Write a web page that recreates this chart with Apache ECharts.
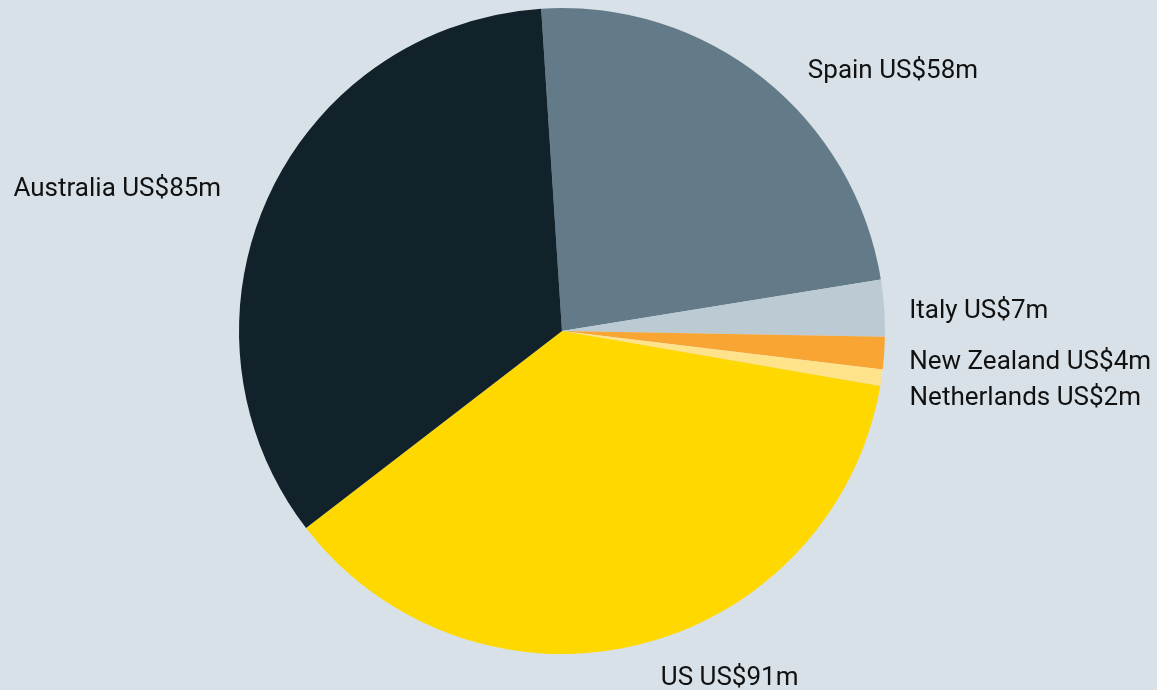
<!DOCTYPE html>
<html>
<head>
<meta charset="utf-8">
<style>
  html, body { margin: 0; padding: 0; background: #d8e1e7; }
  #chart { width: 1157px; height: 690px; }
</style>
<script src="https://cdn.jsdelivr.net/npm/echarts@6/dist/echarts.min.js"></script>
</head>
<body>
<div id="chart"></div>
<script>
// Investment by country, US$ millions
const countries = ['Spain', 'Italy', 'New Zealand', 'Netherlands', 'US', 'Australia'];
const values = [58, 7, 4, 2, 91, 85];

const colors = ['#637b88', '#bccbd3', '#f9a533', '#ffe38a', '#ffd800', '#11222a'];
// label guide lengths per slice [radial, horizontal]
const guides = [[12, 32], [4, 16], [4, 16], [4, 19], [34, 8], [27, 17]];
// extra vertical nudge per label, keeps the small slices' labels apart
const labelNudge = [2, 4, 9, 20, 1, 3];

const chart = echarts.init(document.getElementById('chart'));
chart.setOption({
  backgroundColor: '#d8e1e7',
  animation: false,
  series: [{
    type: 'pie',
    center: [562, 331],
    radius: 323,
    startAngle: 93.7,
    clockwise: true,
    avoidLabelOverlap: false,
    label: {
      show: true,
      position: 'outside',
      formatter: p => p.name + ' US$' + p.value + 'm',
      color: '#111111',
      fontFamily: 'Roboto',
      fontSize: 26,
      overflow: 'none'
    },
    labelLine: { show: false },
    labelLayout: p => ({ dy: labelNudge[p.dataIndex] }),
    itemStyle: { borderWidth: 0 },
    data: countries.map((name, i) => ({
      name: name,
      value: values[i],
      itemStyle: { color: colors[i] },
      labelLine: { length: guides[i][0], length2: guides[i][1] }
    }))
  }]
});
</script>
</body>
</html>
